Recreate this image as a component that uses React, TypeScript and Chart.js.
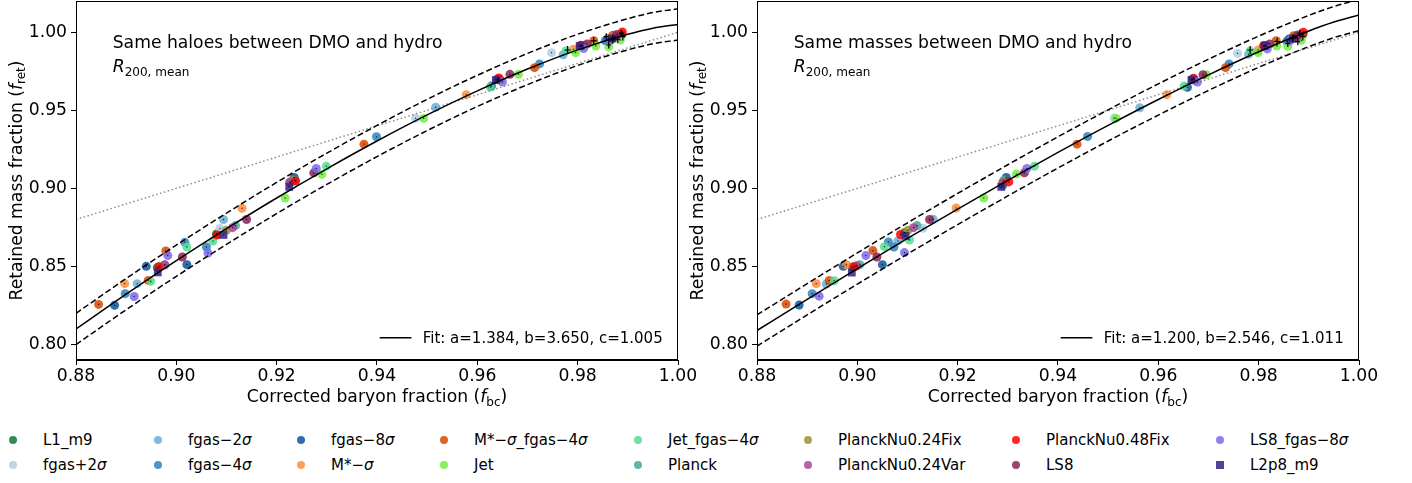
import React, { useEffect, useRef } from 'react';
import { Chart, registerables } from 'chart.js';
Chart.register(...registerables);

const FONT = '"DejaVu Sans", sans-serif';
const MAIN_SIZE = 17.2;
const SMALL_SIZE = 15;

// ---------- axes ----------
const xTicks = [0.88, 0.9, 0.92, 0.94, 0.96, 0.98, 1.0];
const yTicks = [0.8, 0.85, 0.9, 0.95, 1.0];
const xRange = [0.88, 1.0];
const yRange = [0.79, 1.02];

// ---------- 1:1 reference line ----------
const oneToOneX = [0.88, 1.0];
const oneToOneY = [0.88, 1.0];

// ---------- fit curves ----------
const fitX = [0.88, 0.89, 0.9, 0.91, 0.92, 0.93, 0.94, 0.95, 0.96, 0.97, 0.98, 0.99, 0.995, 1.0];
const fitLeft = [0.8099, 0.8322, 0.8536, 0.8741, 0.8938, 0.9125, 0.9303, 0.947, 0.9624, 0.9764, 0.9887, 0.9987, 1.0026, 1.005];
const upperLeft = [0.8199, 0.8422, 0.8636, 0.8841, 0.9038, 0.9225, 0.9403, 0.957, 0.9724, 0.9864, 0.9987, 1.0087, 1.0126, 1.015];
const lowerLeft = [0.7999, 0.8222, 0.8436, 0.8641, 0.8838, 0.9025, 0.9203, 0.937, 0.9524, 0.9664, 0.9787, 0.9887, 0.9926, 0.995];
const fitRight = [0.8089, 0.8289, 0.8486, 0.8679, 0.8867, 0.9051, 0.923, 0.9403, 0.9569, 0.9727, 0.9875, 1.0008, 1.0065, 1.011];
const upperRight = [0.8189, 0.8389, 0.8586, 0.8779, 0.8967, 0.9151, 0.933, 0.9503, 0.9669, 0.9827, 0.9975, 1.0108, 1.0165, 1.021];
const lowerRight = [0.7989, 0.8189, 0.8386, 0.8579, 0.8767, 0.8951, 0.913, 0.9303, 0.9469, 0.9627, 0.9775, 0.9908, 0.9965, 1.001];

// ---------- series ----------
const seriesNames = ['L1_m9', 'fgas+2σ', 'fgas−2σ', 'fgas−4σ', 'fgas−8σ', 'M*−σ', 'M*−σ_fgas−4σ', 'Jet', 'Jet_fgas−4σ', 'Planck', 'PlanckNu0.24Fix', 'PlanckNu0.24Var', 'PlanckNu0.48Fix', 'LS8', 'LS8_fgas−8σ', 'L2p8_m9'];
const seriesColors = ['#117733', '#aecfe6', '#6baed6', '#3182bd', '#0b559f', '#fd8d3c', '#d94801', '#70f040', '#55dd90', '#44aa99', '#999933', '#aa4499', '#ff0000', '#882255', '#7b68ee', '#332288'];
const squareSeries = ['L2p8_m9'];

// left panel: same haloes (x = f_bc, y = f_ret)
const left_L1_m9 = [[0.8962, 0.8492], [0.908, 0.8708], [0.9228, 0.9038], [0.964, 0.97], [0.9808, 0.9915], [0.9872, 0.9962], [0.9888, 0.9985]];
const left_fgas_p2 = [[0.9087, 0.8742], [0.9477, 0.9448], [0.9748, 0.9869], [0.9862, 0.996], [0.9885, 0.9985]];
const left_fgas_m2 = [[0.8922, 0.8389], [0.9094, 0.88], [0.9517, 0.9519], [0.9771, 0.9856], [0.9858, 0.995]];
const left_fgas_m4 = [[0.8898, 0.8325], [0.9017, 0.8654], [0.906, 0.8624], [0.9399, 0.933], [0.9724, 0.9797], [0.9855, 0.9945]];
const left_fgas_m8 = [[0.8877, 0.825], [0.894, 0.85], [0.9021, 0.8511], [0.9235, 0.9069], [0.9628, 0.9655], [0.986, 0.9958]];
const left_Mstar = [[0.8897, 0.8389], [0.9131, 0.8872], [0.9578, 0.96], [0.9792, 0.9891], [0.9866, 0.9965]];
const left_Mstar_fgas = [[0.8845, 0.8256], [0.8944, 0.841], [0.8979, 0.8598], [0.9374, 0.9283], [0.9714, 0.9773], [0.9832, 0.9946], [0.987, 0.998]];
const left_Jet = [[0.9217, 0.8938], [0.929, 0.909], [0.9493, 0.9448], [0.9682, 0.973], [0.9796, 0.9869], [0.9836, 0.9912], [0.9862, 0.9906], [0.9885, 0.995]];
const left_Jet_fgas = [[0.8949, 0.8404], [0.9021, 0.8624], [0.9073, 0.8662], [0.9299, 0.9142], [0.9626, 0.9649], [0.9777, 0.9882], [0.9865, 0.9955]];
const left_Planck = [[0.8977, 0.8508], [0.9118, 0.8761], [0.9236, 0.9052], [0.964, 0.9695], [0.9808, 0.991], [0.9875, 0.997]];
const left_PNu024Fix = [[0.8967, 0.85], [0.91, 0.8731], [0.923, 0.9046], [0.9642, 0.97], [0.9806, 0.9912], [0.9873, 0.9968]];
const left_PNu024Var = [[0.8977, 0.8511], [0.9112, 0.8748], [0.9226, 0.9039], [0.9645, 0.9698], [0.981, 0.9913], [0.9876, 0.997]];
const left_PNu048Fix = [[0.8965, 0.8496], [0.9081, 0.8701], [0.9238, 0.9046], [0.9643, 0.9707], [0.9806, 0.9916], [0.9889, 1.0002]];
const left_LS8 = [[0.9012, 0.856], [0.914, 0.88], [0.9274, 0.9099], [0.9665, 0.973], [0.9819, 0.9925], [0.9878, 0.9985]];
const left_LS8_fgas = [[0.8916, 0.8307], [0.8983, 0.8569], [0.9063, 0.8585], [0.9279, 0.9127], [0.965, 0.9681], [0.9812, 0.9895], [0.9862, 0.9945]];
const left_L2p8 = [[0.8963, 0.8461], [0.9094, 0.8701], [0.9225, 0.9009], [0.9637, 0.9694], [0.9804, 0.9912], [0.9868, 0.996]];

// right panel: same masses
const right_L1_m9 = [[0.899, 0.8496], [0.9094, 0.8716], [0.929, 0.902], [0.9668, 0.9698], [0.9812, 0.9915], [0.9875, 0.9965], [0.9888, 0.9985]];
const right_fgas_p2 = [[0.9131, 0.8744], [0.9512, 0.945], [0.9758, 0.9865], [0.986, 0.9955], [0.9885, 0.9982]];
const right_fgas_m2 = [[0.8938, 0.8387], [0.9081, 0.8663], [0.9151, 0.8802], [0.9563, 0.9516], [0.978, 0.9859], [0.9858, 0.9948]];
const right_fgas_m4 = [[0.891, 0.8325], [0.9062, 0.8656], [0.9073, 0.8624], [0.9459, 0.9332], [0.9741, 0.9797], [0.9856, 0.9942]];
const right_fgas_m8 = [[0.8884, 0.8252], [0.8972, 0.85], [0.905, 0.8511], [0.9297, 0.9069], [0.9658, 0.9647], [0.9862, 0.9958]];
const right_Mstar = [[0.8918, 0.8389], [0.8978, 0.8511], [0.9197, 0.8874], [0.9617, 0.96], [0.9799, 0.9886], [0.9866, 0.9962]];
const right_Mstar_fgas = [[0.8858, 0.8258], [0.8944, 0.841], [0.9031, 0.8601], [0.9438, 0.9283], [0.9734, 0.9773], [0.9835, 0.9946], [0.987, 0.9978]];
const right_Jet = [[0.9252, 0.8938], [0.9317, 0.9091], [0.9516, 0.9448], [0.9696, 0.9728], [0.9799, 0.9869], [0.9836, 0.9912], [0.9858, 0.991], [0.9885, 0.9948]];
const right_Jet_fgas = [[0.8954, 0.8408], [0.9054, 0.8626], [0.9104, 0.8669], [0.9353, 0.9142], [0.9651, 0.9655], [0.9783, 0.988], [0.9866, 0.9955]];
const right_Planck = [[0.9005, 0.8511], [0.9119, 0.8761], [0.9292, 0.9052], [0.9668, 0.9695], [0.9812, 0.991], [0.9875, 0.9968]];
const right_PNu024Fix = [[0.8997, 0.85], [0.9101, 0.8731], [0.929, 0.904], [0.9668, 0.97], [0.981, 0.9912], [0.9874, 0.9968]];
const right_PNu024Var = [[0.8999, 0.8504], [0.9112, 0.8748], [0.929, 0.9035], [0.9672, 0.9698], [0.9815, 0.9913], [0.9877, 0.997]];
const right_PNu048Fix = [[0.8993, 0.8496], [0.9086, 0.8704], [0.9302, 0.9041], [0.967, 0.9705], [0.981, 0.9914], [0.9889, 1.0]];
const right_LS8 = [[0.9039, 0.856], [0.9144, 0.88], [0.9333, 0.9099], [0.9689, 0.9728], [0.9822, 0.9925], [0.9878, 0.9982]];
const right_LS8_fgas = [[0.8924, 0.8309], [0.9017, 0.8569], [0.9094, 0.8588], [0.9338, 0.9127], [0.9678, 0.9681], [0.9817, 0.9893], [0.9862, 0.9945]];
const right_L2p8 = [[0.8989, 0.846], [0.9096, 0.8695], [0.9287, 0.9009], [0.9666, 0.9694], [0.9812, 0.9914], [0.9868, 0.9958]];

// error bars visible in the picture: [x, y, xErr, yErr]
const errLeft = [[0.978, 0.9886, 0.0006, 0.0025], [0.9832, 0.9944, 0.0006, 0.0025], [0.9862, 0.9918, 0.0005, 0.0022], [0.987, 0.9951, 0.0006, 0.0026], [0.988, 0.9955, 0.0005, 0.0024], [0.9887, 0.9994, 0.0005, 0.0022], [0.9857, 0.9972, 0.0005, 0.0022], [0.989, 0.9972, 0.0005, 0.0025]];
const errRight = [[0.9783, 0.9886, 0.0006, 0.0025], [0.9837, 0.994, 0.0006, 0.0025], [0.9858, 0.9929, 0.0005, 0.0022], [0.9868, 0.9962, 0.0006, 0.0026], [0.9878, 0.994, 0.0005, 0.0024], [0.9882, 0.9994, 0.0005, 0.0022], [0.9888, 0.9972, 0.0005, 0.0025]];

const titleLeft = 'Same haloes between DMO and hydro';
const titleRight = 'Same masses between DMO and hydro';
const fitLabelLeft = 'Fit: a=1.384, b=3.650, c=1.005';
const fitLabelRight = 'Fit: a=1.200, b=2.546, c=1.011';

const leftSeries = [left_L1_m9, left_fgas_p2, left_fgas_m2, left_fgas_m4, left_fgas_m8, left_Mstar, left_Mstar_fgas, left_Jet, left_Jet_fgas, left_Planck, left_PNu024Fix, left_PNu024Var, left_PNu048Fix, left_LS8, left_LS8_fgas, left_L2p8];
const rightSeries = [right_L1_m9, right_fgas_p2, right_fgas_m2, right_fgas_m4, right_fgas_m8, right_Mstar, right_Mstar_fgas, right_Jet, right_Jet_fgas, right_Planck, right_PNu024Fix, right_PNu024Var, right_PNu048Fix, right_LS8, right_LS8_fgas, right_L2p8];

// ---------- layout constants ----------
const legendColX = [13, 158, 301, 444, 638, 808, 1016, 1220];
const legendRowY = [440, 465];

type Seg = { t: string; it?: boolean; sub?: boolean };

function segFont(s: Seg, size: number) {
  const sz = s.sub ? size * 0.7 : size;
  return `${s.it ? 'italic ' : ''}${sz}px ${FONT}`;
}
function drawRich(ctx: CanvasRenderingContext2D, segs: Seg[], x: number, y: number, size: number, align: 'left' | 'center') {
  let w = 0;
  for (const s of segs) { ctx.font = segFont(s, size); w += ctx.measureText(s.t).width; }
  let cx = align === 'center' ? x - w / 2 : x;
  ctx.textAlign = 'left';
  ctx.textBaseline = 'alphabetic';
  for (const s of segs) {
    ctx.font = segFont(s, size);
    ctx.fillText(s.t, cx, y + (s.sub ? size * 0.22 : 0));
    cx += ctx.measureText(s.t).width;
  }
}

function rgba(hex: string, a: number) {
  const n = parseInt(hex.slice(1), 16);
  return `rgba(${(n >> 16) & 255},${(n >> 8) & 255},${n & 255},${a})`;
}

function lineDataset(xs: number[], ys: number[], color: string, dash: number[], width: number, order: number) {
  return {
    type: 'scatter' as const,
    data: xs.map((x, i) => ({ x, y: ys[i] })),
    showLine: true,
    borderColor: color,
    borderDash: dash,
    borderWidth: width,
    pointRadius: 0,
    fill: false,
    cubicInterpolationMode: 'monotone' as const,
    order,
  };
}

type Panel = {
  series: number[][][];
  fit: number[];
  upper: number[];
  lower: number[];
  errs: number[][];
  title: string;
  fitLabel: string;
};

const leftPanel: Panel = { series: leftSeries, fit: fitLeft, upper: upperLeft, lower: lowerLeft, errs: errLeft, title: titleLeft, fitLabel: fitLabelLeft };
const rightPanel: Panel = { series: rightSeries, fit: fitRight, upper: upperRight, lower: lowerRight, errs: errRight, title: titleRight, fitLabel: fitLabelRight };

const NLINES = 4;

function makeChart(canvas: HTMLCanvasElement, panel: Panel) {
  const datasets: any[] = [
    lineDataset(fitX, panel.fit, '#000', [], 1.5, 0),
    lineDataset(fitX, panel.upper, '#000', [6, 3], 1.5, 1),
    lineDataset(fitX, panel.lower, '#000', [6, 3], 1.5, 2),
    lineDataset(oneToOneX, oneToOneY, 'rgba(128,128,128,0.9)', [1.5, 2.5], 1.5, 3),
  ];
  panel.series.forEach((pts, i) => {
    const sq = squareSeries.includes(seriesNames[i]);
    datasets.push({
      type: 'scatter',
      data: pts.map(([x, y]) => ({ x, y })),
      showLine: false,
      pointBackgroundColor: rgba(seriesColors[i], 0.85),
      pointBorderColor: 'rgba(0,0,0,0)',
      pointBorderWidth: 0,
      pointRadius: sq ? 5.5 : 4.5,
      pointStyle: sq ? 'rect' : 'circle',
      order: 100 - i,
    });
  });

  const decor = {
    id: 'decor',
    afterDatasetsDraw(chart: any) {
      const ctx = chart.ctx as CanvasRenderingContext2D;
      const xs = chart.scales.x;
      const ys = chart.scales.y;
      ctx.save();
      ctx.fillStyle = 'rgba(0,0,0,0.8)';
      chart.data.datasets.forEach((_: any, i: number) => {
        if (i < NLINES) return;
        chart.getDatasetMeta(i).data.forEach((el: any) => {
          ctx.fillRect(el.x - 0.6, el.y - 0.6, 1.2, 1.2);
        });
      });
      ctx.strokeStyle = '#000';
      ctx.lineWidth = 1.2;
      panel.errs.forEach(([x, y, xe, ye]) => {
        const px = xs.getPixelForValue(x);
        const py = ys.getPixelForValue(y);
        ctx.beginPath();
        ctx.moveTo(xs.getPixelForValue(x - xe), py);
        ctx.lineTo(xs.getPixelForValue(x + xe), py);
        ctx.moveTo(px, ys.getPixelForValue(y - ye));
        ctx.lineTo(px, ys.getPixelForValue(y + ye));
        ctx.stroke();
      });
      ctx.restore();
    },
    afterDraw(chart: any) {
      const ctx = chart.ctx as CanvasRenderingContext2D;
      const { left, right, top, bottom } = chart.chartArea;
      ctx.save();
      ctx.strokeStyle = '#000';
      ctx.lineWidth = 1;
      ctx.strokeRect(left + 0.5, top + 0.5, right - left - 1, bottom - top - 1);
      ctx.fillStyle = '#000';
      // annotation
      drawRich(ctx, [{ t: panel.title }], left + 36.7, top + 46.7, MAIN_SIZE, 'left');
      drawRich(ctx, [{ t: 'R', it: true }, { t: '200, mean', sub: true }], left + 36.7, top + 71.3, MAIN_SIZE, 'left');
      // fit legend
      ctx.strokeStyle = '#000';
      ctx.lineWidth = 1.5;
      ctx.beginPath();
      ctx.moveTo(left + 303.7, top + 336.7);
      ctx.lineTo(left + 335.4, top + 336.7);
      ctx.stroke();
      drawRich(ctx, [{ t: panel.fitLabel }], left + 346.7, top + 342, SMALL_SIZE, 'left');
      // x title
      drawRich(ctx, [{ t: 'Corrected baryon fraction (' }, { t: 'f', it: true }, { t: 'bc', sub: true }, { t: ')' }], (left + right) / 2, bottom + 42, MAIN_SIZE, 'center');
      // y title
      ctx.translate(left - 54.5, (top + bottom) / 2);
      ctx.rotate(-Math.PI / 2);
      drawRich(ctx, [{ t: 'Retained mass fraction (' }, { t: 'f', it: true }, { t: 'ret', sub: true }, { t: ')' }], 0, 0, MAIN_SIZE, 'center');
      ctx.restore();
    },
  };

  const tickFont = { family: FONT, size: MAIN_SIZE };
  return new Chart(canvas, {
    type: 'scatter',
    data: { datasets },
    options: {
      responsive: false,
      animation: false,
      events: [],
      devicePixelRatio: 1,
      layout: { autoPadding: false, padding: { left: 0, right: 22, top: 1, bottom: 0 } },
      plugins: { legend: { display: false }, tooltip: { enabled: false } },
      scales: {
        x: {
          type: 'linear',
          min: xRange[0],
          max: xRange[1],
          afterBuildTicks: (s: any) => { s.ticks = xTicks.map((v) => ({ value: v })); },
          afterFit: (s: any) => { s.height = 60; s.paddingLeft = 0; s.paddingRight = 0; },
          ticks: { color: '#000', font: tickFont, padding: 1, maxRotation: 0, autoSkip: false, callback: (v: any) => Number(v).toFixed(2) },
          grid: { display: true, drawOnChartArea: false, drawTicks: true, tickLength: 5, tickColor: '#000', tickWidth: 1 },
          border: { display: true, color: '#000', width: 1 },
        },
        y: {
          type: 'linear',
          min: yRange[0],
          max: yRange[1],
          afterBuildTicks: (s: any) => { s.ticks = yTicks.map((v) => ({ value: v })); },
          afterFit: (s: any) => { s.width = 76; s.paddingTop = 0; s.paddingBottom = 0; },
          ticks: { color: '#000', font: tickFont, padding: 4, autoSkip: false, callback: (v: any) => Number(v).toFixed(2) },
          grid: { display: true, drawOnChartArea: false, drawTicks: true, tickLength: 5, tickColor: '#000', tickWidth: 1 },
          border: { display: true, color: '#000', width: 1 },
        },
      },
    } as any,
    plugins: [decor],
  });
}

function renderLabel(n: string) {
  const parts = n.split('σ');
  const out: React.ReactNode[] = [];
  parts.forEach((p, i) => {
    out.push(<span key={'p' + i}>{p}</span>);
    if (i < parts.length - 1) out.push(<i key={'s' + i}>σ</i>);
  });
  return out;
}

export default function App() {
  const leftRef = useRef<HTMLCanvasElement>(null);
  const rightRef = useRef<HTMLCanvasElement>(null);
  useEffect(() => {
    const c1 = makeChart(leftRef.current!, leftPanel);
    const c2 = makeChart(rightRef.current!, rightPanel);
    return () => { c1.destroy(); c2.destroy(); };
  }, []);
  return (
    <div style={{ position: 'absolute', left: 0, top: 0, width: 1412, height: 483, background: '#fff', fontFamily: FONT, color: '#000' }}>
      <canvas ref={leftRef} width={700} height={420} style={{ position: 'absolute', left: 0, top: 0, width: 700, height: 420 }} />
      <canvas ref={rightRef} width={700} height={420} style={{ position: 'absolute', left: 681, top: 0, width: 700, height: 420 }} />
      {seriesNames.map((n, i) => {
        const col = Math.floor(i / 2);
        const row = i % 2;
        const cx = legendColX[col];
        const cy = legendRowY[row];
        const sq = squareSeries.includes(n);
        return (
          <React.Fragment key={n}>
            <div style={{ position: 'absolute', left: cx - 4, top: cy - 4, width: 8, height: 8, borderRadius: sq ? 0 : '50%', background: rgba(seriesColors[i], 0.85) }} />
            <div style={{ position: 'absolute', left: cx + 30, top: cy - 10, fontSize: SMALL_SIZE, lineHeight: '20px', whiteSpace: 'nowrap' }}>{renderLabel(n)}</div>
          </React.Fragment>
        );
      })}
    </div>
  );
}
